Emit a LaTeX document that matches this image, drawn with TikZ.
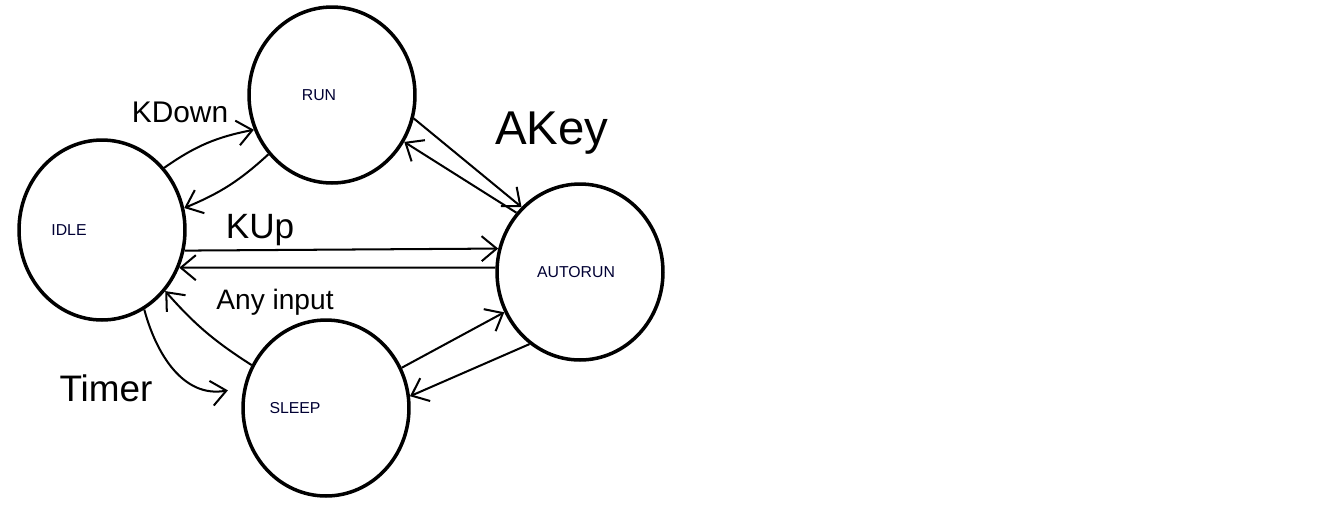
\documentclass[tikz,border=0pt]{standalone}
\usepackage{fontspec}
\setmainfont{Liberation Sans}
\usetikzlibrary{shapes.geometric,arrows.meta}
\begin{document}
\begin{tikzpicture}[x=0.02cm,y=-0.02cm,
  state/.style={draw,ellipse,line width=2pt,minimum width=3.32cm,minimum height=3.52cm,inner sep=0pt,font=\fontsize{9}{10}\selectfont,text=black!80!blue},
  conn/.style={line width=1.15pt,-{Straight Barb[length=0.3cm,width=0.5cm,line width=1.15pt]}},
  lbl/.style={inner sep=0pt}]
\useasboundingbox (0,0) rectangle (1335,512);
\node[state] (run) at (332,95) {\hspace*{-0.52cm}\raisebox{-0.06cm}{RUN}};
\node[state,minimum height=3.6cm] (idle) at (102,230) {\hspace*{-1.32cm}IDLE};
\node[state] (autorun) at (580,272) {\hspace*{-0.16cm}AUTORUN};
\node[state] (sleep) at (326,408) {\hspace*{-1.24cm}SLEEP};
% labels
\node[lbl,font=\fontsize{17}{20}\selectfont] (lkdown) at (180,112) {KDown};
\node[lbl,font=\fontsize{27}{30}\selectfont] (lakey) at (552,133) {AKey};
\node[lbl,font=\fontsize{20}{24}\selectfont] (lkup) at (260,230) {KUp};
\node[lbl,font=\fontsize{16}{20}\selectfont] (lany) at (275,302) {Any input};
\node[lbl,font=\fontsize{21}{24}\selectfont] (ltimer) at (106,388) {Timer};
% connectors
\draw[conn] (idle.45) to[bend left=12] (run.204);
\draw[conn] (run.223) to[bend left=10] (idle.15);
\draw[conn] (run.-16) -- (autorun.132);
\draw[conn] (autorun.137) -- (run.-33);
\draw[conn] (idle.-14) -- (autorun.164);
\draw[conn] (autorun.177) -- (idle.-26);
\draw[conn] (sleep.150) to[bend left=8] (idle.-44);
\draw[conn] (idle.-62) to[out=-75,in=190] ([xshift=-0.3cm]sleep.168);
\draw[conn] (sleep.28) -- (autorun.208);
\draw[conn] (autorun.235) -- (sleep.8);
\end{tikzpicture}
\end{document}
